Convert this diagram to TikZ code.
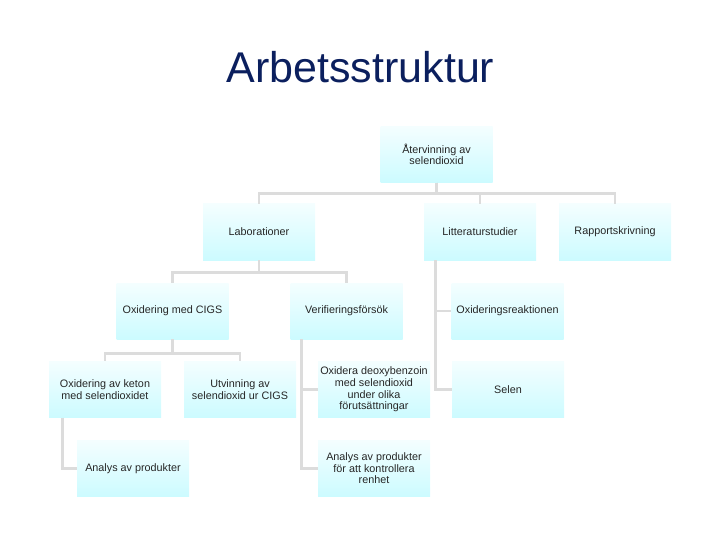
\documentclass[tikz,border=0pt]{standalone}
\usepackage{fontspec}
\setmainfont{Liberation Sans}
\usepackage{tikz}
\usetikzlibrary{positioning,calc}
\definecolor{boxtop}{HTML}{F4FEFF}
\definecolor{boxbot}{HTML}{CCFBFF}
\definecolor{linegray}{HTML}{DCDCDC}
\definecolor{titleblue}{HTML}{0B1F5E}

\begin{document}
\begin{tikzpicture}[x=1pt, y=-1pt,
  task/.style={top color=boxtop, bottom color=boxbot, minimum width=112pt, minimum height=56pt,
    inner sep=2pt, align=center, font=\fontsize{10.8}{11.6}\selectfont, text=black!85},
  conn/.style={draw=linegray, line width=2.8pt}
]
\useasboundingbox (0,0) rectangle (720,540);
\node[anchor=base, text=titleblue, font=\fontsize{43}{50}\selectfont] (title) at (360.5,83) {Arbetsstruktur};

\node[task] (root) at (436.5,154.5) {Återvinning av\\selendioxid};
\node[task] (lab) at (259,232) {Laborationer};
\node[task] (litt) at (480,232) {Litteraturstudier};
\node[task] (rapp) at (615,232) {Rapportskrivning};
\node[task] (cigs) at (172.5,311) {Oxidering med CIGS};
\node[task] (verif) at (346.5,311) {Verifieringsförsök};
\node[task] (oxre) at (507.5,311) {Oxideringsreaktionen};
\node[task] (keton) at (105,389.5) {Oxidering av keton\\med selendioxidet};
\node[task] (utv) at (240,389.5) {Utvinning av\\selendioxid ur CIGS};
\node[task] (oxdeox) at (374,389.5) {Oxidera deoxybenzoin\\med selendioxid\\under olika\\förutsättningar};
\node[task] (selen) at (508,389.5) {Selen};
\node[task] (analys) at (133,468.5) {Analys av produkter};
\node[task] (renhet) at (374,468.5) {Analys av produkter\\för att kontrollera\\renhet};

\draw[conn] (root.south) -- ++(0,11) -| (lab.north);
\draw[conn] (root.south) -- ++(0,11) -| (litt.north);
\draw[conn] (root.south) -- ++(0,11) -| (rapp.north);
\draw[conn] (lab.south) -- ++(0,12) -| (cigs.north);
\draw[conn] (lab.south) -- ++(0,12) -| (verif.north);
\draw[conn] (cigs.south) -- ++(0,14) -| (keton.north);
\draw[conn] (cigs.south) -- ++(0,14) -| (utv.north);
\draw[conn] ($(litt.south west)+(12,0)$) |- (oxre.west);
\draw[conn] ($(litt.south west)+(12,0)$) |- (selen.west);
\draw[conn] ($(verif.south west)+(11,0)$) |- (oxdeox.west);
\draw[conn] ($(verif.south west)+(11,0)$) |- (renhet.west);
\draw[conn] ($(keton.south west)+(14,0)$) |- (analys.west);
\end{tikzpicture}
\end{document}
